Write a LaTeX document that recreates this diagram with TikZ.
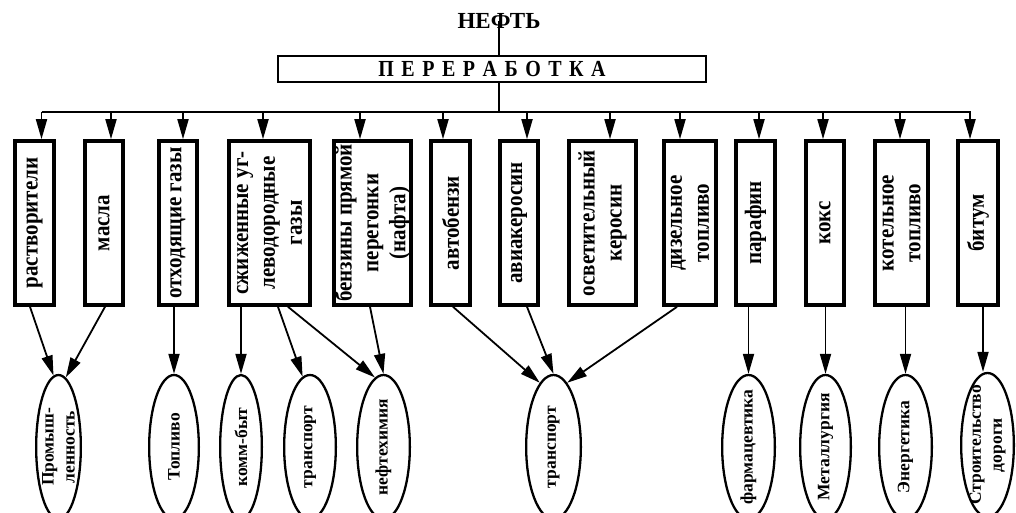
\documentclass[tikz,border=0pt]{standalone}
\usepackage{graphicx}
\usepackage{fontspec}
\setmainfont{Liberation Serif}
\usetikzlibrary{arrows.meta,shapes.geometric,calc}

\begin{document}
\begin{tikzpicture}[x=1pt,y=-1pt,
  every node/.style={inner sep=0pt, font=\bfseries},
  prodbox/.style={draw, rectangle, line width=3.6pt, minimum height=164pt, minimum width=#1},
  boxtext/.style={rotate=90, yscale=1.12, align=center, font=\bfseries\fontsize{21}{24}\selectfont},
  enduse/.style={draw, ellipse, line width=2.3pt, minimum height=144pt, minimum width=#1},
  usetext/.style={rotate=90, align=center, font=\bfseries\fontsize{17.5}{21}\selectfont},
  bar/.style={line width=1.8pt},
  link/.style={line width=1.8pt, -{Triangle[length=20pt,width=11pt]}}]

\useasboundingbox (0,0) rectangle (1016,512);
\clip (0,0) rectangle (1016,512);

% source and processing stage
\node (neft) at (499,21) {\fontsize{23}{23}\selectfont НЕФТЬ};
\node[draw, line width=2pt, minimum width=428pt, minimum height=26pt] (proc) at (492,69)
  {\scalebox{1}[1.15]{\fontsize{20}{20}\selectfont П\kern7.5ptЕ\kern7.5ptР\kern7.5ptЕ\kern7.5ptР\kern7.5ptА\kern7.5ptБ\kern7.5ptО\kern7.5ptТ\kern7.5ptК\kern7.5ptА}};

% distribution bus
\coordinate (busL) at (41.5,112);
\coordinate (busR) at (971,112);

% products
\node[prodbox=39pt] (b1)  at (34.5,223) {};
\node[prodbox=38pt] (b2)  at (104,223) {};
\node[prodbox=38pt] (b3)  at (178,223) {};
\node[prodbox=81pt] (b4)  at (269.5,223) {};
\node[prodbox=77pt] (b5)  at (372.5,223) {};
\node[prodbox=39pt] (b6)  at (450.5,223) {};
\node[prodbox=38pt] (b7)  at (519,223) {};
\node[prodbox=67pt] (b8)  at (602.5,223) {};
\node[prodbox=52pt] (b9)  at (690,223) {};
\node[prodbox=39pt] (b10) at (755.5,223) {};
\node[prodbox=38pt] (b11) at (825,223) {};
\node[prodbox=53pt] (b12) at (901.5,223) {};
\node[prodbox=40pt] (b13) at (978,223) {};

\node[boxtext] (t1)  at (b1)  {растворители};
\node[boxtext] (t2)  at (b2)  {масла};
\node[boxtext] (t3)  at (b3)  {отходящие газы};
\node[boxtext] (t4)  at (b4)  {сжиженные уг-\\леводородные\\газы};
\node[boxtext] (t5)  at (b5)  {бензины прямой\\перегонки\\(нафта)};
\node[boxtext] (t6)  at (b6)  {автобензи};
\node[boxtext] (t7)  at (b7)  {авиакеросин};
\node[boxtext] (t8)  at (b8)  {осветительный\\керосин};
\node[boxtext] (t9)  at (b9)  {дизельное\\топливо};
\node[boxtext] (t10) at (b10) {парафин};
\node[boxtext] (t11) at (b11) {кокс};
\node[boxtext] (t12) at (b12) {котельное\\топливо};
\node[boxtext] (t13) at (b13) {битум};

% consumers
\node[enduse=44.7pt] (e1)  at (58.5,447) {};
\node[enduse=49.7pt] (e2)  at (174,447) {};
\node[enduse=41.7pt] (e3)  at (241,447) {};
\node[enduse=51.7pt] (e4)  at (310,447) {};
\node[enduse=52.7pt] (e5)  at (383.5,447) {};
\node[enduse=54.7pt] (e6)  at (553.5,447) {};
\node[enduse=52.7pt] (e7)  at (748.5,447) {};
\node[enduse=50.7pt] (e8)  at (825.5,447) {};
\node[enduse=52.7pt] (e9)  at (905.5,447) {};
\node[enduse=52.7pt] (e10) at (987.5,445) {};

\node[usetext] (u1)  at (e1)  {Промыш-\\ленность};
\node[usetext] (u2)  at (e2)  {Топливо};
\node[usetext] (u3)  at (e3)  {комм-быт};
\node[usetext] (u4)  at (e4)  {транспорт};
\node[usetext] (u5)  at (e5)  {нефтехимия};
\node[usetext] (u6)  at (e6)  {транспорт};
\node[usetext] (u7)  at (e7)  {фармацевтика};
\node[usetext] (u8)  at (e8)  {Металлургия};
\node[usetext] (u9)  at (e9)  {Энергетика};
\node[usetext] (u10) at (e10) {Строительство\\дороги};

% trunk: source -> processing -> bus
\draw[bar] (neft.center) -- (neft.center |- proc.north);
\draw[bar] (neft.center |- proc.south) -- (neft.center |- busL);
\draw[bar] (busL) -- (busR);

% bus -> products
\foreach \b/\dx in {b1/7, b2/7, b3/5, b4/-6.5, b5/-12.5, b6/-7.5, b7/8,
                    b8/7.5, b9/-10, b10/3.5, b11/-2, b12/-1.5, b13/-8}
  \draw[link] ($(\b.north |- busL)+(\dx,0)$) -- ($(\b.north)+(\dx,0)$);

% products -> consumers
\draw[link] ($(b1.south)+(-4.5,0)$) -- (e1.94);
\draw[link] ($(b2.south)+(1,0)$) -- (e1.84);
\draw[link] (e2.north |- b3.south) -- (e2.north);
\draw[link] (e3.north |- b4.south) -- (e3.north);
\draw[link] ($(b4.south)+(8.5,0)$) -- (e4.96);
\draw[link] ($(b4.south)+(18.5,0)$) -- (e5.97);
\draw[link] ($(b5.south)+(-2.5,0)$) -- (e5.north);
\draw[link] ($(b6.south)+(2.5,0)$) -- (e6.102);
\draw[link] ($(b7.south)+(8,0)$) -- (e6.north);
\draw[link] ($(b9.south)+(-13,0)$) -- (e6.78);
\draw[link] (e7.north |- b10.south) -- (e7.north);
\draw[link] (e8.north |- b11.south) -- (e8.north);
\draw[link] (e9.north |- b12.south) -- (e9.north);
\draw[link] ($(e10.north |- b13.south)+(-4.5,0)$) -- ($(e10.north)+(-4.5,0)$);
\end{tikzpicture}
\end{document}
